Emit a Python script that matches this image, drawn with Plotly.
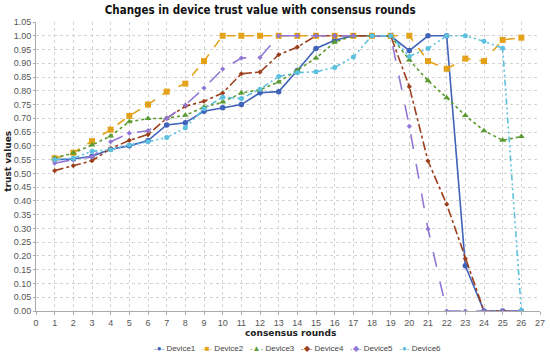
import plotly.graph_objects as go

rounds = list(range(1, 27))
device1 = [0.550, 0.552, 0.562, 0.588, 0.600, 0.619, 0.676, 0.684, 0.726, 0.738, 0.750, 0.793, 0.797, 0.874, 0.954, 0.984, 1.0, 1.0, 1.0, 0.946, 1.0, 1.0, 0.164, 0.0, 0.0, 0.0]
device2 = [0.555, 0.575, 0.617, 0.659, 0.709, 0.750, 0.797, 0.826, 0.908, 1.0, 1.0, 1.0, 1.0, 1.0, 1.0, 1.0, 1.0, 1.0, 1.0, 1.0, 0.908, 0.880, 0.917, 0.908, 0.985, 0.993]
device3 = [0.555, 0.574, 0.603, 0.636, 0.688, 0.699, 0.700, 0.711, 0.741, 0.759, 0.792, 0.804, 0.832, 0.874, 0.919, 0.976, 1.0, 1.0, 1.0, 0.912, 0.837, 0.775, 0.710, 0.655, 0.620, 0.634]
device4 = [0.510, 0.528, 0.546, 0.590, 0.620, 0.641, 0.700, 0.744, 0.762, 0.792, 0.862, 0.868, 0.931, 0.959, 1.0, 1.0, 1.0, 1.0, 1.0, 0.815, 0.545, 0.388, 0.190, 0.0, 0.0, 0.0]
device5 = [0.537, 0.550, 0.560, 0.615, 0.646, 0.655, 0.700, 0.748, 0.810, 0.879, 0.919, 0.921, 1.0, 1.0, 1.0, 1.0, 1.0, 1.0, 1.0, 0.671, 0.298, 0.0, 0.0, 0.0, 0.0, 0.0]
device6 = [0.550, 0.555, 0.580, 0.586, 0.603, 0.615, 0.630, 0.666, 0.735, 0.777, 0.772, 0.806, 0.852, 0.866, 0.869, 0.885, 0.923, 1.0, 1.0, 0.925, 0.954, 1.0, 1.0, 0.980, 0.955, 0.0]

names = ["Device1", "Device2", "Device3", "Device4", "Device5", "Device6"]
series = [device1, device2, device3, device4, device5, device6]
colors = ["#3f63b8", "#e3a21a", "#5a9a30", "#9c3f1c", "#9278d6", "#5cc0de"]
dashes = ["solid", "dash", "dot", "dashdot", "longdash", "6px,3px,2px,3px,2px,3px"]
symbols = ["circle", "square", "triangle-up", "diamond", "diamond", "circle"]
msizes = [5.5, 6, 6, 4, 4, 5]
legend_glyphs = ["●", "■", "▲", "◆", "◆", "●"]

xticks = list(range(0, 28))
yticks = [round(i * 0.05, 2) for i in range(0, 22)]

fig = go.Figure()
for n, s, c, d, sym, ms in zip(names, series, colors, dashes, symbols, msizes):
    fig.add_trace(go.Scatter(
        x=rounds, y=s, name=n, mode="lines+markers",
        line=dict(color=c, width=1.6, dash=d),
        marker=dict(color=c, symbol=sym, size=ms),
        showlegend=False,
    ))

tickfont = dict(family="Liberation Sans", size=9, color="#555")
fig.update_layout(
    width=550, height=354,
    margin=dict(l=36, r=10, t=22, b=43, autoexpand=False),
    paper_bgcolor="white", plot_bgcolor="white",
    font=dict(family="Liberation Sans", size=9, color="#444"),
    title=dict(text="<b>Changes in device trust value with consensus rounds</b>",
               x=0.473, xanchor="center", y=0.973, yanchor="middle",
               font=dict(family="DejaVu Sans Condensed, DejaVu Sans", size=11.5, color="#111")),
    showlegend=False,
)
fig.update_xaxes(range=[0, 27], tickmode="array", tickvals=xticks, automargin=False,
                 showgrid=True, gridcolor="#d4d4d4", griddash="dot", gridwidth=1,
                 showline=True, linecolor="#aaa", ticks="outside", ticklen=3, tickcolor="#aaa",
                 zeroline=False, tickfont=tickfont)
fig.update_yaxes(range=[0, 1.05], tickmode="array", tickvals=yticks, tickformat=".2f", automargin=False,
                 showgrid=True, gridcolor="#d4d4d4", griddash="dot", gridwidth=1,
                 showline=True, linecolor="#aaa", ticks="outside", ticklen=2, tickcolor="#aaa",
                 zeroline=False, tickfont=tickfont)

fig.add_annotation(text="<b>consensus rounds</b>", xref="paper", yref="paper",
                   x=0.505, y=-0.075, xanchor="center", yanchor="middle", showarrow=False,
                   font=dict(family="DejaVu Sans", size=9, color="#222"))
fig.add_annotation(text="<b>trust values</b>", xref="paper", yref="paper", textangle=-90,
                   x=-0.0556, y=0.52, xanchor="center", yanchor="middle", showarrow=False,
                   font=dict(family="DejaVu Sans", size=9, color="#222"))

legend_parts = []
for n, c, g in zip(names, colors, legend_glyphs):
    legend_parts.append(f"<span style='color:{c}'>-{g}-</span> {n}")
fig.add_annotation(text="   ".join(legend_parts), xref="paper", yref="paper",
                   x=0.518, y=-0.13, xanchor="center", yanchor="middle", showarrow=False,
                   font=dict(family="Liberation Sans", size=8, color="#444"))

fig.write_html("out.html", config={"displayModeBar": False},
               post_script="document.body.style.margin='0';")
